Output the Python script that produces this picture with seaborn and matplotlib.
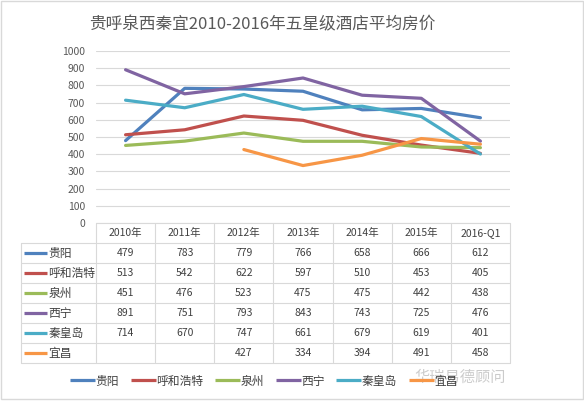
import numpy as np
import pandas as pd
import matplotlib
matplotlib.use("Agg")
import matplotlib.pyplot as plt
import seaborn as sns
from matplotlib.patches import Rectangle

years = ["2010年", "2011年", "2012年", "2013年", "2014年", "2015年", "2016-Q1"]
cities = ["贵阳", "呼和浩特", "泉州", "西宁", "秦皇岛", "宜昌"]
guiyang = [479, 783, 779, 766, 658, 666, 612]
huhehaote = [513, 542, 622, 597, 510, 453, 405]
quanzhou = [451, 476, 523, 475, 475, 442, 438]
xining = [891, 751, 793, 843, 743, 725, 476]
qinhuangdao = [714, 670, 747, 661, 679, 619, 401]
yichang = [np.nan, np.nan, 427, 334, 394, 491, 458]
series = [guiyang, huhehaote, quanzhou, xining, qinhuangdao, yichang]
colors = ["#4F81BD", "#C0504D", "#9BBB59", "#8064A2", "#4BACC6", "#F79646"]
yticks = list(range(0, 1001, 100))
title = "贵呼泉西秦宜2010-2016年五星级酒店平均房价"
watermark = "华瑞易德顾问"

rows = []
for c, vals in zip(cities, series):
    for i, v in enumerate(vals):
        rows.append({"city": c, "pos": i, "price": v})
df = pd.DataFrame(rows)

sns.set_theme(style="white")
plt.rcParams["font.family"] = ["Noto Sans CJK SC", "DejaVu Sans"]

W, H = 584, 401
fig = plt.figure(figsize=(W / 100, H / 100), dpi=100)
fig.patch.set_facecolor("white")

def fx(px):
    return px / W

def fy(py):
    return 1 - py / H

# border
fig.add_artist(Rectangle((fx(1), fy(399)), fx(582), 398 / H, transform=fig.transFigure,
                         fill=False, edgecolor="#D9D9D9", lw=1))

L, R = 96, 510
ax = fig.add_axes([fx(L), fy(223), fx(R - L), (223 - 51) / H])
sns.lineplot(data=df, x="pos", y="price", hue="city", hue_order=cities,
             palette=colors, linewidth=2.3, ax=ax, legend=False, sort=False)
ax.set_xlim(-0.5, len(years) - 0.5)
ax.set_ylim(0, 1000)
ax.set_yticks(yticks)
ax.set_yticklabels([str(t) for t in yticks], fontsize=7.5, color="#595959")
ax.set_xticks([])
ax.set_xlabel("")
ax.set_ylabel("")
for s in ax.spines.values():
    s.set_visible(False)
ax.yaxis.grid(True, color="#D9D9D9", lw=0.8)
ax.set_axisbelow(True)
ax.tick_params(axis="y", length=0, pad=8)

fig.text(fx(262), fy(25), title, ha="center", va="center", fontsize=12, color="#595959")

# data table
n = len(years)
tab = fig.add_axes([fx(L), fy(363), fx(R - L), 140 / H])
tab.set_xlim(-0.5, n - 0.5)
tab.set_ylim(len(cities) + 1, 0)
tab.axis("off")
unit = (R - L) / n
xleft = -0.5 - (L - 21) / unit
gc = "#D9D9D9"
tab.plot([-0.5, n - 0.5], [0, 0], color=gc, lw=0.8, clip_on=False)
for r in range(1, len(cities) + 2):
    tab.plot([xleft, n - 0.5], [r, r], color=gc, lw=0.8, clip_on=False)
for cix in range(n + 1):
    tab.plot([cix - 0.5, cix - 0.5], [0, len(cities) + 1], color=gc, lw=0.8, clip_on=False)
tab.plot([xleft, xleft], [1, len(cities) + 1], color=gc, lw=0.8, clip_on=False)

for i, y in enumerate(years):
    tab.text(i, 0.5, y, ha="center", va="center", fontsize=7.5, color="#404040")
kx0 = -0.5 - (L - 24) / unit
kx1 = -0.5 - (L - 47) / unit
for r, (c, vals, col) in enumerate(zip(cities, series, colors), start=1):
    tab.plot([kx0, kx1], [r + 0.5, r + 0.5], color=col, lw=2.3, clip_on=False,
             solid_capstyle="butt")
    tab.text(kx1 + 0.02, r + 0.5, c, ha="left", va="center", fontsize=8.5, color="#404040")
    for i, v in enumerate(vals):
        if not np.isnan(v):
            tab.text(i, r + 0.5, f"{int(v)}", ha="center", va="center", fontsize=7.5,
                     color="#404040")

# legend
handles = [plt.Line2D([], [], color=col, lw=2.3, solid_capstyle="butt") for col in colors]
fig.legend(handles, cities, loc="center", bbox_to_anchor=(fx(264), fy(381)), ncol=6,
           frameon=False, fontsize=8.5, handlelength=2.1, handletextpad=0.05,
           columnspacing=1.0, labelcolor="#404040", borderpad=0, borderaxespad=0)

fig.text(fx(460), fy(377), watermark, ha="center", va="center", fontsize=11,
         color="#BFBFBF", alpha=0.8)

fig.savefig("out.png", dpi=100)
